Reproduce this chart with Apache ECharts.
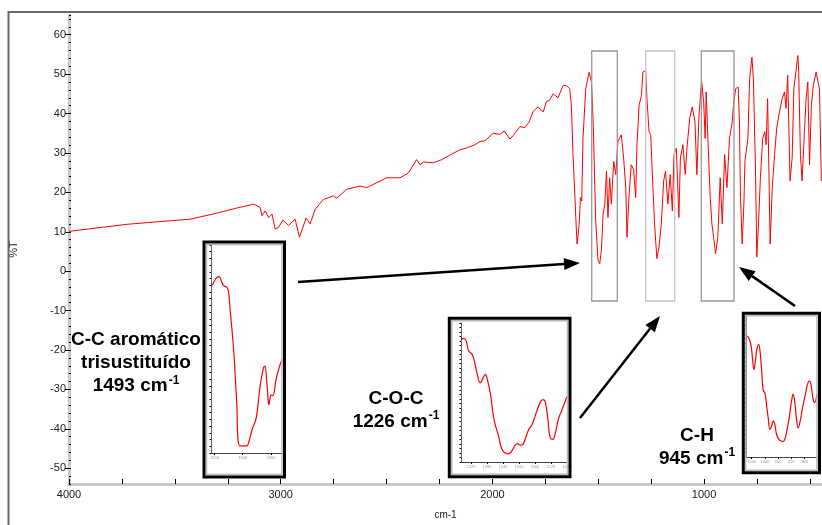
<!DOCTYPE html>
<html>
<head>
<meta charset="utf-8">
<script src="https://cdn.jsdelivr.net/npm/echarts@6/dist/echarts.min.js"></script>
<style>
  html, body { margin: 0; padding: 0; background: #fff; }
  #chart { width: 822px; height: 525px; }
</style>
</head>
<body>
<div id="chart"></div>
<script>
// espectro IR completo (cm-1, %T)
const spectrum = [
  [4000,10.1],[3725,11.9],[3427,13.2],[3303,14.7],[3209,16.0],[3128,17.0],[3097,16.2],[3089,14.1],
  [3073,15.3],[3057,13.6],[3041,14.5],[3026,10.7],[3010,11.1],[2990,13.0],[2963,11.6],[2932,13.2],
  [2911,8.6],[2880,13.5],[2861,12.0],[2837,15.7],[2798,18.2],[2751,19.1],[2735,18.5],[2688,20.8],
  [2625,21.6],[2593,21.2],[2499,23.7],[2436,23.7],[2397,24.9],[2358,28.3],[2342,27.0],[2326,27.7],
  [2279,27.5],[2240,28.3],[2192,29.7],[2153,30.8],[2114,31.4],[2082,32.1],[2059,32.9],[2035,33.1],
  [1996,35.0],[1965,34.7],[1944,35.6],[1917,33.5],[1902,34.4],[1870,36.7],[1847,36.4],[1826,37.9],
  [1808,40.5],[1784,41.7],[1776,41.3],[1760,40.4],[1745,43.0],[1729,43.4],[1713,45.0],[1690,44.0],
  [1666,47.1],[1650,47.1],[1635,46.3],[1627,42.1],[1619,29.6],[1606,13.6],[1600,6.9],[1590,11.9],
  [1584,18.7],[1578,17.8],[1572,33.7],[1559,46.3],[1543,50.5],[1532,48.0],[1524,37.9],[1512,12.8],
  [1501,2.8],[1493,1.9],[1485,5.3],[1477,14.5],[1469,17.0],[1461,25.4],[1454,13.6],[1446,23.7],
  [1438,17.0],[1427,27.9],[1417,24.5],[1407,32.9],[1391,34.6],[1380,28.7],[1370,21.2],[1364,8.6],
  [1355,18.7],[1344,27.0],[1333,25.8],[1323,18.7],[1317,32.1],[1307,42.1],[1296,44.6],[1289,50.5],
  [1276,50.9],[1270,43.8],[1260,35.4],[1252,34.6],[1245,25.4],[1234,12.0],[1223,3.2],[1213,6.1],
  [1202,12.0],[1191,22.9],[1182,25.4],[1171,17.0],[1160,24.5],[1150,15.3],[1142,29.6],[1131,31.2],
  [1119,13.6],[1112,28.7],[1100,32.1],[1089,24.5],[1081,31.2],[1068,38.8],[1056,41.7],[1043,37.9],
  [1034,24.5],[1024,39.6],[1012,48.4],[1002,43.0],[995,33.7],[990,45.5],[982,33.7],[971,18.7],
  [963,12.0],[955,8.6],[946,4.4],[935,8.6],[924,23.7],[914,12.0],[903,29.6],[892,21.2],
  [880,33.7],[867,37.9],[861,42.1],[851,46.3],[839,46.7],[833,37.9],[828,18.7],[820,6.9],
  [812,17.0],[807,27.9],[793,33.7],[785,48.8],[774,54.3],[767,48.8],[757,25.4],[751,3.6],
  [743,12.0],[734,23.7],[723,33.7],[713,35.4],[707,32.1],[700,43.8],[694,26.2],[688,6.9],
  [678,21.2],[667,29.6],[657,36.3],[644,40.4],[631,43.8],[620,45.5],[613,41.3],[605,49.7],
  [594,22.9],[584,28.7],[576,46.3],[565,51.3],[557,54.7],[553,50.5],[545,29.6],[537,22.9],
  [526,35.4],[518,43.8],[510,48.0],[502,27.0],[493,42.1],[484,47.1],[471,50.5],[463,50.9],
  [455,46.3],[446,22.9]
];

// ampliaciones de las bandas
const inset1493 = [
  [1554,49.9],[1548,51.8],[1543,52.6],[1540,52.3],[1537,50.9],[1534,49.9],[1528,49.4],[1525,48.0],
  [1522,42.2],[1516,30.7],[1511,16.3],[1505,2.1],[1493,2.1],[1490,2.9],[1484,6.7],[1476,10.6],
  [1470,19.2],[1464,25.0],[1461,25.9],[1458,22.1],[1455,15.4],[1454,14.4],[1450,17.3],[1447,17.1],
  [1441,22.1],[1435,25.9],[1430,28.0]
];
const inset1226 = [
  [1345,54.7],[1338,55.1],[1332,54.0],[1326,49.6],[1318,48.2],[1313,46.0],[1305,39.6],[1297,35.3],
  [1290,37.4],[1284,39.1],[1280,37.4],[1272,30.9],[1263,19.4],[1257,15.1],[1251,11.5],[1243,5.8],
  [1234,3.9],[1226,3.6],[1218,5.0],[1209,7.6],[1203,8.2],[1197,7.5],[1190,7.9],[1182,11.5],
  [1176,14.4],[1168,16.5],[1159,20.9],[1147,26.6],[1140,27.8],[1134,26.6],[1128,19.4],[1122,10.8],
  [1115,10.1],[1109,13.0],[1101,19.4],[1093,23.0],[1084,27.3],[1080,29.2]
];
const inset945 = [
  [1053,53.3],[1047,51.9],[1041,48.3],[1037,42.7],[1033,38.4],[1029,41.9],[1025,46.9],[1019,49.5],
  [1015,46.9],[1010,38.4],[1005,29.2],[1000,28.2],[995,22.8],[990,17.1],[985,12.1],[980,13.5],
  [975,15.9],[970,14.2],[965,10.0],[960,8.2],[955,7.4],[945,6.8],[940,7.8],[935,10.7],
  [927,17.1],[920,24.2],[915,27.7],[910,24.2],[905,17.1],[900,12.8],[895,14.9],[887,21.3],
  [877,28.4],[870,32.7],[865,33.4],[860,30.6],[855,25.6],[850,23.9],[843,27.7]
];

const xLabels = [4000, 3000, 2000, 1000];
const xTicks = [4000, 3750, 3500, 3250, 3000, 2750, 2500, 2250, 2000, 1750, 1500, 1250, 1000, 750, 500];
const yLabels = [-50, -40, -30, -20, -10, 0, 10, 20, 30, 40, 50, 60];

const chart = echarts.init(document.getElementById("chart"));

const FONT = '"Liberation Sans", Arial, sans-serif';

// flecha: línea + punta triangular
function arrow(x1, y1, x2, y2) {
  const dx = x2 - x1, dy = y2 - y1;
  const len = Math.sqrt(dx * dx + dy * dy);
  const ux = dx / len, uy = dy / len;
  const hl = 16, hw = 6;
  const bx = x2 - ux * hl, by = y2 - uy * hl;
  return [
    { type: "line", z: 20, shape: { x1: x1, y1: y1, x2: bx, y2: by },
      style: { stroke: "#000", lineWidth: 2.5 } },
    { type: "polygon", z: 20,
      shape: { points: [[x2, y2], [bx - uy * hw, by + ux * hw], [bx + uy * hw, by - ux * hw]] },
      style: { fill: "#000" } },
  ];
}

function insetFrame(x1, y1, x2, y2) {
  return [
    { type: "rect", z: 15, shape: { x: x1 + 2.5, y: y1 + 2.5, width: x2 - x1 - 5, height: y2 - y1 - 5 },
      style: { fill: null, stroke: "#b8b8b8", lineWidth: 1.5 } },
    { type: "rect", z: 16, shape: { x: x1, y: y1, width: x2 - x1, height: y2 - y1 },
      style: { fill: null, stroke: "#000", lineWidth: 3 } },
  ];
}

function bandBox(x1, x2, color) {
  return { type: "rect", z: 5, shape: { x: x1, y: 51, width: x2 - x1, height: 250 },
    style: { fill: null, stroke: color, lineWidth: 1.3 } };
}

function label(x, y, lines) {
  return { type: "text", z: 20, x: x, y: y,
    style: { text: lines, align: "center", verticalAlign: "middle",
      rich: {
        a: { fontFamily: FONT, fontSize: 19, fontWeight: "bold", color: "#000", lineHeight: 23 },
        s: { fontFamily: FONT, fontSize: 12, fontWeight: "bold", color: "#000", lineHeight: 23, verticalAlign: "top", padding: [0, 0, 9, 1] },
      } } };
}

function insetX(grid, min, max, ticks) {
  return {
    gridIndex: grid, type: "value", min: min, max: max, inverse: true,
    axisLine: { onZero: false, lineStyle: { color: "#444", width: 1 } },
    axisTick: { customValues: ticks, length: 2, lineStyle: { color: "#000" } },
    axisLabel: { customValues: ticks, fontSize: 4, color: "#999", margin: 3, formatter: (v) => String(v) },
    splitLine: { show: false },
  };
}
function insetY(grid) {
  return {
    gridIndex: grid, type: "value", min: 0, max: 62, interval: 2,
    axisLine: { show: true, onZero: false, lineStyle: { color: "#666", width: 1 } },
    axisTick: { show: true, length: 1.5, lineStyle: { color: "#000" } },
    axisLabel: { show: false },
    splitLine: { show: false },
  };
}

const option = {
  animation: false,
  backgroundColor: "#fff",
  grid: [
    { left: 69, top: 15, right: 0, bottom: 37 },
    { left: 211, top: 245, width: 72, height: 208 },
    { left: 461, top: 323, width: 106, height: 139 },
    { left: 746, top: 316, width: 71, height: 141 },
  ],
  xAxis: [
    {
      gridIndex: 0, type: "value", min: 443, max: 4000, inverse: true,
      name: "cm-1", nameLocation: "middle", nameGap: 26,
      nameTextStyle: { fontFamily: FONT, fontSize: 10, color: "#222" },
      axisLine: { onZero: false, lineStyle: { color: "#c8c8c8", width: 3 } },
      axisTick: { customValues: xTicks, inside: true, length: 5, lineStyle: { color: "#000", width: 1 } },
      axisLabel: { customValues: xLabels, fontFamily: FONT, fontSize: 11, color: "#222", margin: 5,
        formatter: (v) => String(v) },
      splitLine: { show: false },
    },
    insetX(1, 1429, 1556, [1550, 1500, 1450]),
    insetX(2, 1080, 1345, [1320, 1280, 1240, 1200, 1160, 1120, 1080]),
    insetX(3, 843, 1057, [1040, 1000, 960, 920, 880]),
  ],
  yAxis: [
    {
      gridIndex: 0, type: "value", min: -54, max: 65, position: "left",
      name: "%T", nameLocation: "middle", nameGap: 50,
      nameTextStyle: { fontFamily: FONT, fontSize: 11, color: "#222" },
      axisLine: { show: true, onZero: false, lineStyle: { color: "#c8c8c8", width: 3 } },
      axisTick: { show: true, customValues: yLabels, length: 4, lineStyle: { color: "#000" } },
      axisLabel: { customValues: yLabels, fontFamily: FONT, fontSize: 11, color: "#222", margin: 3 },
      splitLine: { show: false },
    },
    {
      gridIndex: 0, type: "value", min: -54, max: 65, interval: 2, position: "left", offset: 0,
      axisLine: { show: false, onZero: false },
      axisTick: { show: true, inside: true, length: 2, lineStyle: { color: "#000" } },
      axisLabel: { show: false },
      splitLine: { show: false },
    },
    insetY(1),
    insetY(2),
    insetY(3),
  ],
  series: [
    {
      type: "line", xAxisIndex: 0, yAxisIndex: 0, data: spectrum,
      showSymbol: false, lineStyle: { color: "#ff0000", width: 1 }, z: 3,
    },
    {
      type: "line", xAxisIndex: 1, yAxisIndex: 2, data: inset1493, smooth: 0.4,
      showSymbol: false, lineStyle: { color: "#ff0000", width: 1.2 },
    },
    {
      type: "line", xAxisIndex: 2, yAxisIndex: 3, data: inset1226, smooth: 0.4,
      showSymbol: false, lineStyle: { color: "#ff0000", width: 1.2 },
    },
    {
      type: "line", xAxisIndex: 3, yAxisIndex: 4, data: inset945, smooth: 0.4,
      showSymbol: false, lineStyle: { color: "#ff0000", width: 1.2 },
    },
  ],
  graphic: [
    // marco exterior
    { type: "polyline", z: 1, shape: { points: [[8.5, 525], [8.5, 12], [822, 12]] },
      style: { fill: null, stroke: "#6a6a6a", lineWidth: 2 } },
    bandBox(591.7, 617.3, "#999"),
    bandBox(645.7, 674.7, "#c8c8c8"),
    bandBox(701.3, 734, "#999"),
    ...insetFrame(204, 242, 284.5, 477),
    ...insetFrame(449.3, 318.3, 570, 476.7),
    ...insetFrame(743.3, 313.3, 819.5, 472.7),
    ...arrow(298, 282, 580, 263),
    ...arrow(580, 418, 660, 316),
    ...arrow(795, 306, 739, 267),
    label(136, 363, "{a|C-C aromático}\n{a|trisustituído}\n{a|1493 cm}{s|-1}"),
    label(396, 410, "{a|C-O-C}\n{a|1226 cm}{s|-1}"),
    label(697, 447, "{a|C-H}\n{a|945 cm}{s|-1}"),
  ],
};

option && chart.setOption(option);
</script>
</body>
</html>
